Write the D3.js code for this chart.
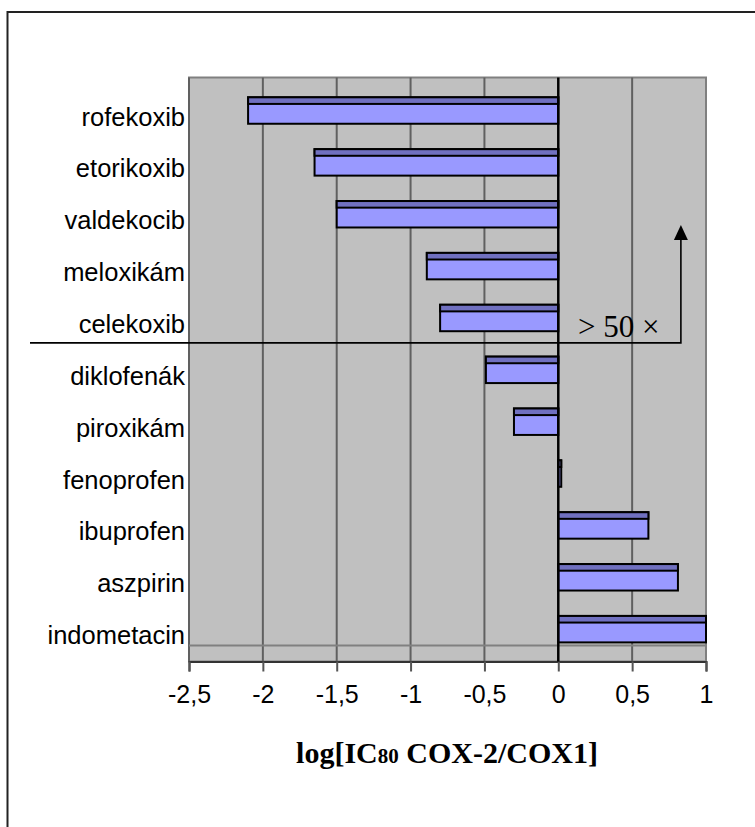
<!DOCTYPE html>
<html>
<head>
<meta charset="utf-8">
<script src="https://cdn.jsdelivr.net/npm/d3@7/dist/d3.min.js"></script>
<style>
  html, body { margin: 0; padding: 0; background: #fff; }
  svg { display: block; }
</style>
</head>
<body>
<svg id="chart" width="755" height="827"></svg>
<script>
// COX-2 / COX-1 selectivity of NSAIDs
const drugs = ["rofekoxib", "etorikoxib", "valdekocib", "meloxikám", "celekoxib",
               "diklofenák", "piroxikám", "fenoprofen", "ibuprofen", "aszpirin", "indometacin"];
const logRatio = [-2.1, -1.65, -1.5, -0.89, -0.8, -0.49, -0.3, 0.02, 0.61, 0.81, 1.0];
const xTicks = [-2.5, -2, -1.5, -1, -0.5, 0, 0.5, 1];
const thresholdLabel = "> 50 ×";

const svg = d3.select("#chart");

// plot frame
const plot = { left: 189, right: 706, top: 77.5, bottom: 661.5 };

const x = d3.scaleLinear().domain([-2.5, 1]).range([plot.left, plot.right]);
const y = d3.scaleBand().domain(drugs).range([84.6, 655.1])
  .paddingInner(0.49).paddingOuter(0.245);

const huLocale = d3.formatLocale({ decimal: ",", thousands: " ", grouping: [3], currency: ["", ""], minus: "-" });
const fmt = huLocale.format("~g");

// outer frame of the figure
svg.append("rect")
  .attr("x", 7.5).attr("y", 12)
  .attr("width", 800).attr("height", 900)
  .attr("fill", "none").attr("stroke", "#222").attr("stroke-width", 2);

// plot background
svg.append("rect")
  .attr("x", plot.left).attr("y", plot.top)
  .attr("width", plot.right - plot.left).attr("height", plot.bottom - plot.top)
  .attr("fill", "#c0c0c0").attr("stroke", "#808080").attr("stroke-width", 2);

// vertical gridlines
svg.append("g").selectAll("line")
  .data(xTicks.filter(t => t > -2.5 && t < 1 && t !== 0))
  .join("line")
  .attr("x1", d => x(d)).attr("x2", d => x(d))
  .attr("y1", plot.top).attr("y2", plot.bottom)
  .attr("stroke", "#606060").attr("stroke-width", 2);

// left edge of the plot
svg.append("line")
  .attr("x1", plot.left).attr("x2", plot.left)
  .attr("y1", plot.top).attr("y2", plot.bottom)
  .attr("stroke", "#606060").attr("stroke-width", 2);

// floor line below the last category
svg.append("line")
  .attr("x1", plot.left).attr("x2", plot.right)
  .attr("y1", 645.5).attr("y2", 645.5)
  .attr("stroke", "#808080").attr("stroke-width", 2);

// x axis
const xAxis = d3.axisBottom(x).tickValues(xTicks).tickFormat(fmt).tickSize(10).tickPadding(14);
const gx = svg.append("g").attr("transform", `translate(0,${plot.bottom})`).call(xAxis);
gx.select(".domain").attr("stroke", "#333").attr("stroke-width", 2);
gx.selectAll(".tick line").attr("stroke", "#555").attr("stroke-width", 2);
gx.selectAll(".tick text")
  .attr("font-family", "Liberation Sans, Arial, sans-serif")
  .attr("font-size", 25).attr("fill", "#000");

// bars: front face plus a darker top strip
const bars = svg.append("g").selectAll("g")
  .data(drugs.map((d, i) => ({ name: d, v: logRatio[i] })))
  .join("g");

const strip = y.bandwidth() * 0.25;
bars.append("rect")
  .attr("x", d => Math.min(x(0), x(d.v)))
  .attr("y", d => y(d.name))
  .attr("width", d => Math.abs(x(d.v) - x(0)))
  .attr("height", y.bandwidth())
  .attr("fill", "#9999ff")
  .attr("stroke", "#000").attr("stroke-width", 2);

bars.append("rect")
  .attr("x", d => Math.min(x(0), x(d.v)))
  .attr("y", d => y(d.name))
  .attr("width", d => Math.abs(x(d.v) - x(0)))
  .attr("height", strip)
  .attr("fill", "#7070c0")
  .attr("stroke", "#000").attr("stroke-width", 2);

// zero line
svg.append("line")
  .attr("x1", x(0)).attr("x2", x(0))
  .attr("y1", plot.top).attr("y2", plot.bottom)
  .attr("stroke", "#000").attr("stroke-width", 2.5);

// category labels
svg.append("g").selectAll("text")
  .data(drugs)
  .join("text")
  .attr("x", 185)
  .attr("y", d => y(d) + y.bandwidth() / 2 + 15)
  .attr("text-anchor", "end")
  .attr("font-family", "Liberation Sans, Arial, sans-serif")
  .attr("font-size", 25.5)
  .attr("fill", "#000")
  .text(d => d);

// selectivity threshold marker: line under celekoxib and arrow pointing up
const lineY = (y("celekoxib") + y.bandwidth() + y("diklofenák")) / 2 - 1;
const arrowX = x(0.83);
svg.append("path")
  .attr("d", `M30,${lineY} H${arrowX} V240`)
  .attr("fill", "none").attr("stroke", "#000").attr("stroke-width", 1.6);
svg.append("path")
  .attr("d", `M${arrowX},225 L${arrowX - 7},240 L${arrowX + 7},240 Z`)
  .attr("fill", "#000");

svg.append("text")
  .attr("x", 578).attr("y", 337)
  .attr("font-family", "Liberation Serif, Times New Roman, serif")
  .attr("font-size", 31)
  .attr("fill", "#000")
  .attr("xml:space", "preserve")
  .text(thresholdLabel);

// axis title
const title = svg.append("text")
  .attr("x", 447).attr("y", 763)
  .attr("text-anchor", "middle")
  .attr("font-family", "Liberation Serif, Times New Roman, serif")
  .attr("font-weight", "bold")
  .attr("font-size", 30)
  .attr("fill", "#000");
title.append("tspan").text("log[IC");
title.append("tspan").attr("font-size", 21).text("80");
title.append("tspan").text(" COX-2/COX1]");
</script>
</body>
</html>
